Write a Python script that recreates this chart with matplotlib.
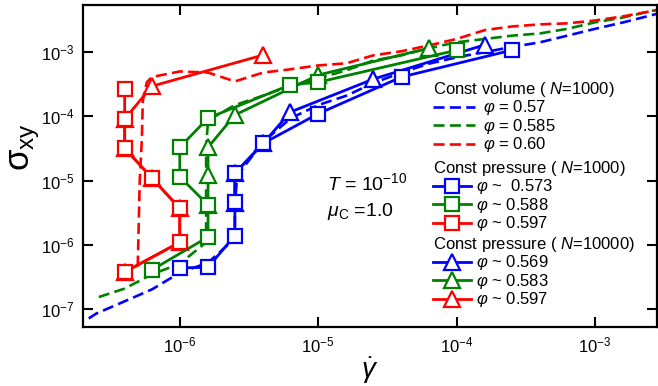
import matplotlib
matplotlib.use("Agg")
import matplotlib.pyplot as plt

plt.rcParams['font.family'] = ['Liberation Sans', 'DejaVu Sans']
plt.rcParams['mathtext.fontset'] = 'custom'
plt.rcParams['mathtext.rm'] = 'Liberation Sans'
plt.rcParams['mathtext.it'] = 'Liberation Sans:italic'
plt.rcParams['mathtext.bf'] = 'Liberation Sans:bold'

# ---------------- data ----------------
# Const volume (N=1000)
cv_057_x = [2.2e-7, 2.5e-7, 4e-7, 6.3e-7, 1e-6, 1.6e-6, 2.5e-6, 2.5e-6, 2.6e-6, 4e-6, 6.3e-6, 1e-5,
            1.6e-5, 2.5e-5, 4e-5, 6.3e-5, 1e-4, 1.6e-4, 2.5e-4, 4e-4, 6.3e-4, 1e-3, 1.6e-3, 2.5e-3, 4e-3]
cv_057_y = [7.2e-8, 8.6e-8, 1.33e-7, 2.04e-7, 3.7e-7, 5.3e-7, 1.26e-6, 4.1e-6, 1.2e-5, 4.0e-5, 9.3e-5, 1.5e-4,
            2.1e-4, 3.3e-4, 4.8e-4, 6.6e-4, 8.3e-4, 1.0e-3, 1.2e-3, 1.42e-3, 1.8e-3, 2.3e-3, 2.9e-3, 3.7e-3, 4.8e-3]

cv_0585_x = [2.6e-7, 4e-7, 6.3e-7, 1e-6, 1.55e-6, 1.55e-6, 1.55e-6, 1.55e-6, 1.6e-6, 2.5e-6, 4e-6, 6.3e-6,
             1e-5, 1.6e-5, 2.5e-5, 4e-5, 6.3e-5, 1e-4, 1.6e-4, 2.5e-4, 4e-4, 6.3e-4, 1e-3, 1.6e-3, 2.5e-3, 4e-3]
cv_0585_y = [1.55e-7, 2.1e-7, 3.5e-7, 5.1e-7, 1.1e-6, 4.1e-6, 1.2e-5, 3.3e-5, 8.7e-5, 1.5e-4, 2.1e-4, 3.0e-4,
             3.9e-4, 5.2e-4, 7.4e-4, 8.9e-4, 1.15e-3, 1.42e-3, 1.6e-3, 1.8e-3, 1.95e-3, 2.3e-3, 2.9e-3, 3.46e-3, 4.3e-3, 5.4e-3]

cv_060_x = [4.97e-7, 5.06e-7, 5.14e-7, 5.32e-7, 5.41e-7, 5.78e-7, 6.3e-7, 1e-6, 1.6e-6, 2.5e-6, 4e-6, 6.3e-6,
            1e-5, 1.6e-5, 2.5e-5, 4e-5, 6.3e-5, 1e-4, 1.6e-4, 2.5e-4, 4e-4, 6.3e-4, 1e-3, 1.6e-3, 2.5e-3, 4e-3]
cv_060_y = [4.6e-7, 2.4e-6, 1.0e-5, 4.3e-5, 1.78e-4, 3.4e-4, 4.1e-4, 5.0e-4, 4.8e-4, 3.5e-4, 4.8e-4, 5.4e-4,
            6.2e-4, 6.7e-4, 8.9e-4, 1.03e-3, 1.27e-3, 1.6e-3, 2.2e-3, 2.5e-3, 2.7e-3, 2.8e-3, 3.1e-3, 3.6e-3, 4.3e-3, 5.3e-3]

# Const pressure (N=1000), squares
cp1k_0573_x = [1.0e-6, 1.6e-6, 2.5e-6, 2.5e-6, 2.5e-6, 4.0e-6, 1.0e-5, 4.0e-5, 2.5e-4]
cp1k_0573_y = [4.4e-7, 4.5e-7, 1.4e-6, 4.7e-6, 1.3e-5, 3.8e-5, 1.1e-4, 4.1e-4, 1.07e-3]

cp1k_0588_x = [6.3e-7, 1.6e-6, 1.6e-6, 1.0e-6, 1.0e-6, 1.6e-6, 6.3e-6, 1.0e-5, 1.0e-4]
cp1k_0588_y = [4.1e-7, 1.33e-6, 4.2e-6, 1.15e-5, 3.3e-5, 9.4e-5, 3.1e-4, 3.4e-4, 1.07e-3]

cp1k_0597_x = [4e-7, 4e-7, 4e-7, 6.3e-7, 1e-6, 1e-6, 4e-7]
cp1k_0597_y = [2.66e-4, 9.1e-5, 3.2e-5, 1.1e-5, 3.7e-6, 1.1e-6, 3.8e-7]

# Const pressure (N=10000), triangles
cp10k_0569_x = [2.5e-6, 2.5e-6, 4.0e-6, 6.3e-6, 2.5e-5, 1.6e-4]
cp10k_0569_y = [4.5e-6, 1.3e-5, 3.8e-5, 1.17e-4, 3.8e-4, 1.3e-3]

cp10k_0583_x = [1.6e-6, 1.6e-6, 1.6e-6, 2.5e-6, 1.0e-5, 6.3e-5]
cp10k_0583_y = [4.2e-6, 1.23e-5, 3.3e-5, 1.05e-4, 4.4e-4, 1.15e-3]

cp10k_0597_x = [4e-6, 6.3e-7, 4e-7, 4e-7, 6.3e-7, 1e-6, 1e-6, 4e-7]
cp10k_0597_y = [9.0e-4, 2.95e-4, 9.1e-5, 3.2e-5, 1.1e-5, 3.7e-6, 1.1e-6, 3.8e-7]

x_ticks = [1e-6, 1e-5, 1e-4, 1e-3]
y_ticks = [1e-7, 1e-6, 1e-5, 1e-4, 1e-3]

BLUE, GREEN, RED = '#0000ff', '#008000', '#ff0000'

# ---------------- figure ----------------
W, H = 658, 386
fig = plt.figure(figsize=(W / 100, H / 100), dpi=100)
ax = fig.add_axes([83 / W, 1 - 327 / H, (657 - 83) / W, (327 - 5) / H])
ax.set_xscale('log')
ax.set_yscale('log')

dash_kw = dict(lw=1.9, ls=(0, (4.2, 2.0)))
l_cv1, = ax.plot(cv_057_x, cv_057_y, color=BLUE, **dash_kw)
l_cv2, = ax.plot(cv_0585_x, cv_0585_y, color=GREEN, **dash_kw)
l_cv3, = ax.plot(cv_060_x, cv_060_y, color=RED, **dash_kw)

sq_kw = dict(lw=2.0, marker='s', ms=9.5, mfc='white', mew=1.6)
tr_kw = dict(lw=2.0, marker='^', ms=12, mfc='white', mew=1.6)

l_t1, = ax.plot(cp10k_0569_x, cp10k_0569_y, color=BLUE, **tr_kw)
l_t2, = ax.plot(cp10k_0583_x, cp10k_0583_y, color=GREEN, **tr_kw)
l_t3, = ax.plot(cp10k_0597_x, cp10k_0597_y, color=RED, **tr_kw)
l_s1, = ax.plot(cp1k_0573_x, cp1k_0573_y, color=BLUE, **sq_kw)
l_s2, = ax.plot(cp1k_0588_x, cp1k_0588_y, color=GREEN, **sq_kw)
l_s3, = ax.plot(cp1k_0597_x, cp1k_0597_y, color=RED, **sq_kw)

ax.set_xlim(2.0e-7, 2.8e-3)
ax.set_ylim(5.3e-8, 5.4e-3)
ax.set_xticks(x_ticks)
ax.set_yticks(y_ticks)
ax.minorticks_off()
ax.tick_params(which='both', direction='in', length=7, width=1.5, labelsize=12,
               top=True, right=True, pad=6)
for s in ax.spines.values():
    s.set_linewidth(1.6)

ax.set_xlabel(r'$\dot{\gamma}$', fontsize=20, labelpad=0)
ax.set_ylabel(r'$\mathrm{\sigma}_{\mathrm{xy}}$', fontsize=25)
ax.yaxis.set_label_coords(-0.072, 0.56)

fig.text(327 / W, 1 - 183 / H, r'$T$ = 10$^{-10}$', fontsize=14, va='center', ha='left')
fig.text(327 / W, 1 - 211 / H, r'$\mu_{\mathrm{C}}$ =1.0', fontsize=14, va='center', ha='left')

leg_common = dict(frameon=False, fontsize=12, borderpad=0, borderaxespad=0,
                  numpoints=1, alignment='left', handleheight=0.5, labelspacing=-0.04,
                  title_fontsize=12, loc='upper left', bbox_transform=fig.transFigure)

leg1 = ax.legend([l_cv1, l_cv2, l_cv3],
                 [r'$\varphi$ = 0.57', r'$\varphi$ = 0.585', r'$\varphi$ = 0.60'],
                 title=r'Const volume ( $N$=1000)', handlelength=2.5, handletextpad=0.5,
                 bbox_to_anchor=(433 / W, 1 - 80 / H), **leg_common)
ax.add_artist(leg1)
leg2 = ax.legend([l_s1, l_s2, l_s3],
                 [r'$\varphi$ ~  0.573', r'$\varphi$ ~ 0.588', r'$\varphi$ ~ 0.597'],
                 title=r'Const pressure ( $N$=1000)', handlelength=2.3, handletextpad=0.3,
                 bbox_to_anchor=(433 / W, 1 - 159 / H), **leg_common)
ax.add_artist(leg2)
leg3 = ax.legend([l_t1, l_t2, l_t3],
                 [r'$\varphi$ ~ 0.569', r'$\varphi$ ~ 0.583', r'$\varphi$ ~ 0.597'],
                 title=r'Const pressure ( $N$=10000)', handlelength=2.3, handletextpad=0.3,
                 bbox_to_anchor=(433 / W, 1 - 235 / H), **leg_common)

fig.savefig('out.png', dpi=100)
